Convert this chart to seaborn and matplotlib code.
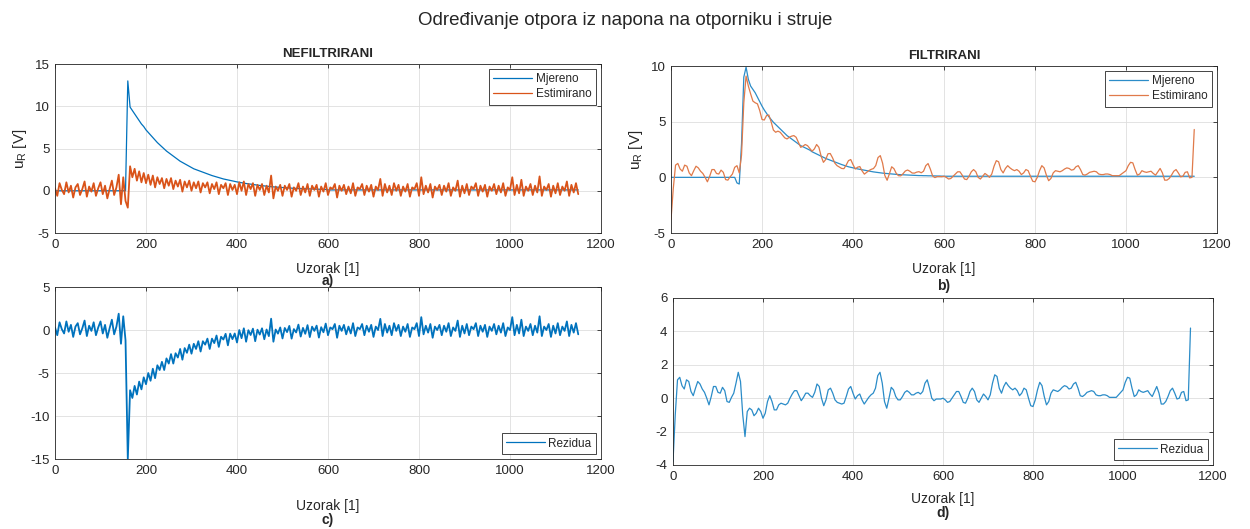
import numpy as np
import pandas as pd
import seaborn as sns
import matplotlib.pyplot as plt

# sample index (every 5th sample)
uzorak = np.arange(0, 1151, 5)

# a) nefiltrirani signali
mjereno_nf = [0.0] * 32 + [
    13.0, 9.9, 9.5, 9.1, 8.7, 8.3, 7.9, 7.6,
    7.2, 6.9, 6.6, 6.3, 6.0, 5.7, 5.45, 5.2, 4.95, 4.7,
    4.5, 4.3, 4.1, 3.9, 3.7, 3.5, 3.35, 3.2, 3.05, 2.9,
    2.75, 2.6, 2.5, 2.4, 2.3, 2.2, 2.1, 2.0, 1.9, 1.8,
    1.72, 1.64, 1.56, 1.48, 1.4, 1.34, 1.28, 1.22, 1.16, 1.1,
    1.05, 1.0, 0.95, 0.9, 0.86, 0.82, 0.78, 0.74, 0.7, 0.66,
    0.63, 0.6, 0.57, 0.54, 0.51, 0.48, 0.46, 0.44, 0.42, 0.4,
    0.38, 0.36, 0.34, 0.32, 0.3, 0.29, 0.28, 0.27, 0.26, 0.25,
    0.24, 0.23, 0.22, 0.21, 0.2, 0.19, 0.18, 0.17, 0.16, 0.15,
] + [0.1] * 111

estimirano_nf = [
    0.3, -0.6, 0.9, 0.1, -0.4, 1.0, -0.2, 0.6, -0.8, 0.4,
    0.8, -0.5, 0.2, 1.1, -0.7, 0.5, -0.1, 0.9, -0.6, 0.3,
    1.0, -0.4, 0.6, -0.9, 0.2, 1.2, -0.5, 0.4, 1.9, -1.6,
    1.6, -1.2, -2.0, 2.9, 1.6, 2.6, 1.2, 2.3, 1.0, 2.1,
    0.9, 1.9, 0.7, 1.8, 0.4, 1.6, 0.8, 1.5, 0.3, 1.4,
    0.6, 1.5, 0.2, 1.2, 0.5, 1.3, -0.1, 1.1, 0.4, 1.2,
    0.0, 1.0, 0.3, 1.1, -0.2, 0.9, 0.4, 1.0, -0.3, 0.8,
    0.2, 1.0, -0.4, 0.7, 0.3, 0.9, -0.5, 0.8, 0.1, 0.7,
    -0.4, 1.0, 0.0, 1.1, -0.5, 0.8, 0.2, 0.9, -0.6, 0.7,
    0.1, 0.8, -0.5, 0.6, -0.2, 1.8, -0.9, 0.5, 0.0, 0.7,
    -0.6, 0.6, 0.1, 0.8, -0.7, 0.4, 0.0, 0.9, -0.5, 0.5,
    -0.2, 0.8, -0.6, 0.6, 0.1, 0.7, -0.7, 0.5, -0.1, 0.9,
    -0.5, 0.4, 0.2, 0.8, -0.8, 0.6, 0.0, 0.7, -0.4, 0.5,
    -0.3, 0.9, -0.6, 0.4, 0.2, 0.8, -0.5, 0.6, -0.1, 0.7,
    -0.7, 0.5, 0.1, 1.4, -0.6, 0.8, -0.2, 0.6, -0.5, 0.9,
    0.0, 0.7, -0.6, 0.5, -0.1, 0.8, -0.7, 0.4, 0.2, 0.9,
    -0.6, 1.6, -0.4, 0.6, -0.2, 0.8, -0.8, 0.5, 0.1, 0.7,
    -0.5, 0.6, -0.1, 0.9, -0.6, 0.4, 0.0, 1.2, -0.7, 0.6,
    -0.3, 0.8, -0.5, 0.5, 0.2, 0.9, -0.6, 0.6, -0.1, 0.7,
    -0.7, 0.5, 0.0, 0.8, -0.4, 0.6, -0.2, 0.9, -0.6, 0.4,
    0.1, 1.6, -0.5, 0.7, -0.3, 1.3, -0.6, 0.5, 0.0, 0.8,
    -0.5, 0.6, -0.2, 1.7, -0.6, 0.5, 0.1, 0.8, -0.7, 0.6,
    -0.3, 0.9, -0.5, 0.5, 0.0, 1.1, -0.6, 0.7, -0.2, 0.9,
    -0.4,
]

# b) filtrirani signali
mjereno_f = [0.0] * 29 + [
    -0.5, -0.6, 3.0, 9.0, 9.9, 8.8, 8.2, 7.9, 7.6, 7.2, 6.8,
    6.4, 6.05, 5.75, 5.45, 5.2, 4.95, 4.75, 4.55, 4.35, 4.15,
    3.95, 3.75, 3.6, 3.45, 3.3, 3.15, 3.0, 2.85, 2.75, 2.65,
    2.55, 2.45, 2.3, 2.2, 2.1, 2.0, 1.9, 1.8, 1.7, 1.62,
    1.54, 1.46, 1.38, 1.3, 1.22, 1.15, 1.08, 1.0, 0.95, 0.9,
    0.85, 0.8, 0.76, 0.72, 0.68, 0.64, 0.6, 0.56, 0.52, 0.49,
    0.46, 0.43, 0.4, 0.38, 0.36, 0.34, 0.32, 0.3, 0.28, 0.26,
    0.25, 0.24, 0.23, 0.22, 0.21, 0.2, 0.19, 0.18, 0.17, 0.16,
    0.16, 0.15, 0.15, 0.14, 0.14, 0.13, 0.13, 0.12, 0.12, 0.11,
] + [0.1] * 111

rezidua_f = [
    -3.8, -1.0, 1.1, 1.25, 0.75, 0.55, 1.1, 1.0, 0.4, 0.15,
    0.6, 1.0, 0.85, 0.55, 0.35, 0.0, -0.4, 0.1, 0.7, 0.7,
    0.35, 0.3, 0.65, 0.45, -0.2, -0.25, 0.05, 0.3, 0.9, 1.55,
    1.0, -1.0, -2.3, -0.8, -0.6, -0.7, -1.05, -0.9, -0.6, -0.8,
    -1.2, -0.9, -0.2, 0.15, -0.2, -0.7, -0.7, -0.4, -0.3, -0.35,
    -0.4, -0.3, 0.0, 0.25, 0.45, 0.45, 0.15, -0.15, 0.05, 0.3,
    0.3, 0.15, 0.05, 0.35, 0.85, 0.7, 0.0, -0.45, -0.1, 0.5,
    0.6, 0.3, -0.1, -0.25, -0.3, -0.35, -0.3, 0.1, 0.55, 0.7,
    0.3, -0.05, 0.15, 0.25, -0.1, -0.35, -0.15, 0.05, 0.2, 0.3,
    0.6, 1.35, 1.55, 0.9, -0.2, -0.6, 0.0, 0.65, 0.5, 0.1,
    -0.1, -0.1, 0.1, 0.35, 0.45, 0.35, 0.2, 0.2, 0.3, 0.35,
    0.25, 0.4, 0.9, 1.1, 0.6, 0.0, -0.15, -0.05, -0.05, -0.05,
    0.0, -0.1, -0.25, -0.2, 0.0, 0.2, 0.4, 0.4, 0.1, -0.25,
    -0.3, 0.0, 0.4, 0.6, 0.4, -0.1, -0.25, 0.0, 0.25, 0.1,
    -0.1, 0.2, 0.9, 1.4, 1.3, 0.6, 0.3, 0.7, 0.95, 0.75,
    0.6, 0.5, 0.6, 0.45, 0.15, 0.3, 0.6, 0.5, 0.0, -0.45,
    -0.5, -0.1, 0.5, 0.95, 0.75, 0.1, -0.4, -0.2, 0.3, 0.5,
    0.45, 0.4, 0.5, 0.65, 0.75, 0.7, 0.55, 0.6, 0.85, 0.95,
    0.6, 0.15, 0.1, 0.2, 0.35, 0.4, 0.45, 0.4, 0.2, 0.15,
    0.15, 0.2, 0.2, 0.15, 0.05, 0.05, 0.05, 0.05, 0.2, 0.35,
    0.5, 0.95, 1.25, 1.2, 0.6, 0.1, 0.2, 0.5, 0.4, 0.35,
    0.4, 0.45, 0.25, 0.1, 0.4, 0.7, 0.3, -0.35, -0.35, -0.2,
    0.1, 0.45, 0.6, 0.3, -0.05, 0.0, 0.35, 0.4, -0.15, -0.1,
    4.2,
]

nf_df = pd.DataFrame({'Uzorak': uzorak, 'Mjereno': mjereno_nf, 'Estimirano': estimirano_nf})
nf_df['Rezidua'] = nf_df['Estimirano'] - nf_df['Mjereno']
f_df = pd.DataFrame({'Uzorak': uzorak, 'Mjereno': mjereno_f, 'Rezidua': rezidua_f})
f_df['Estimirano'] = f_df['Mjereno'] + f_df['Rezidua']

plava = '#0072BD'
narancasta = '#D95319'

sns.set_style("whitegrid")
plt.rcParams['font.family'] = ['Liberation Sans', 'DejaVu Sans']
plt.rcParams['mathtext.default'] = 'regular'
plt.rcParams['axes.unicode_minus'] = False

fig = plt.figure(figsize=(12.5, 5.29), dpi=100)
ax_a = fig.add_axes([0.044, 0.5595, 0.4368, 0.3195])
ax_b = fig.add_axes([0.5368, 0.5595, 0.4368, 0.3157])
ax_c = fig.add_axes([0.044, 0.1323, 0.4368, 0.3251])
ax_d = fig.add_axes([0.5384, 0.121, 0.432, 0.3157])

sns.lineplot(data=nf_df, x='Uzorak', y='Mjereno', ax=ax_a, color=plava, lw=0.9,
             label='Mjereno', estimator=None)
sns.lineplot(data=nf_df, x='Uzorak', y='Estimirano', ax=ax_a, color=narancasta, lw=1.3,
             label='Estimirano', estimator=None)
sns.lineplot(data=f_df, x='Uzorak', y='Mjereno', ax=ax_b, color='#2b8cc8', lw=0.9,
             label='Mjereno', estimator=None)
sns.lineplot(data=f_df, x='Uzorak', y='Estimirano', ax=ax_b, color='#e07a4a', lw=0.9,
             label='Estimirano', estimator=None)
sns.lineplot(data=nf_df, x='Uzorak', y='Rezidua', ax=ax_c, color=plava, lw=1.3,
             label='Rezidua', estimator=None)
sns.lineplot(data=f_df, x='Uzorak', y='Rezidua', ax=ax_d, color='#2b8cc8', lw=0.9,
             label='Rezidua', estimator=None)


def matlab_style(ax, ylim, yticks, label_y, slovo, slovo_y, legend_loc):
    ax.set_xlim(0, 1200)
    ax.set_xticks(range(0, 1201, 200))
    ax.set_ylim(ylim)
    ax.set_yticks(yticks)
    ax.grid(True, color='#dedede', lw=0.6)
    for s in ax.spines.values():
        s.set_visible(True)
        s.set_color('#262626')
        s.set_linewidth(0.6)
    ax.tick_params(direction='in', top=True, right=True, length=3, width=0.6,
                   labelsize=9.5, colors='#262626', pad=4)
    ax.set_xlabel('Uzorak [1]', fontsize=10, color='#262626')
    ax.xaxis.set_label_coords(0.5, label_y)
    ax.set_ylabel('')
    ax.text(0.5, slovo_y, slovo, transform=ax.transAxes, ha='center', va='center',
            fontsize=10, fontweight='bold')
    leg = ax.legend(loc=legend_loc, fontsize=8.5, frameon=True, fancybox=False,
                    edgecolor='#262626', framealpha=1, handlelength=3.3,
                    handletextpad=0.3, borderaxespad=0.45, borderpad=0.35,
                    labelspacing=0.25)
    leg.get_frame().set_linewidth(0.6)
    for line in leg.get_lines():
        line.set_linewidth(0.9)


matlab_style(ax_a, (-5, 15), [-5, 0, 5, 10, 15], -0.172, 'a)', -0.284, 'upper right')
matlab_style(ax_b, (-5, 10), [-5, 0, 5, 10], -0.174, 'b)', -0.317, 'upper right')
matlab_style(ax_c, (-15, 5), [-15, -10, -5, 0, 5], -0.233, 'c)', -0.355, 'lower right')
matlab_style(ax_d, (-4, 6), [-4, -2, 0, 2, 4, 6], -0.162, 'd)', -0.287, 'lower right')

ax_a.set_ylabel(r'u$_R$ [V]', fontsize=11, color='#262626')
ax_b.set_ylabel(r'u$_R$ [V]', fontsize=11, color='#262626')
ax_a.set_title('NEFILTRIRANI', fontsize=9.5, fontweight='bold', pad=5)
ax_b.set_title('FILTRIRANI', fontsize=9.5, fontweight='bold', pad=5)

fig.suptitle('Određivanje otpora iz napona na otporniku i struje', fontsize=13.5, y=0.978)

fig.savefig('out.png', dpi=100)
